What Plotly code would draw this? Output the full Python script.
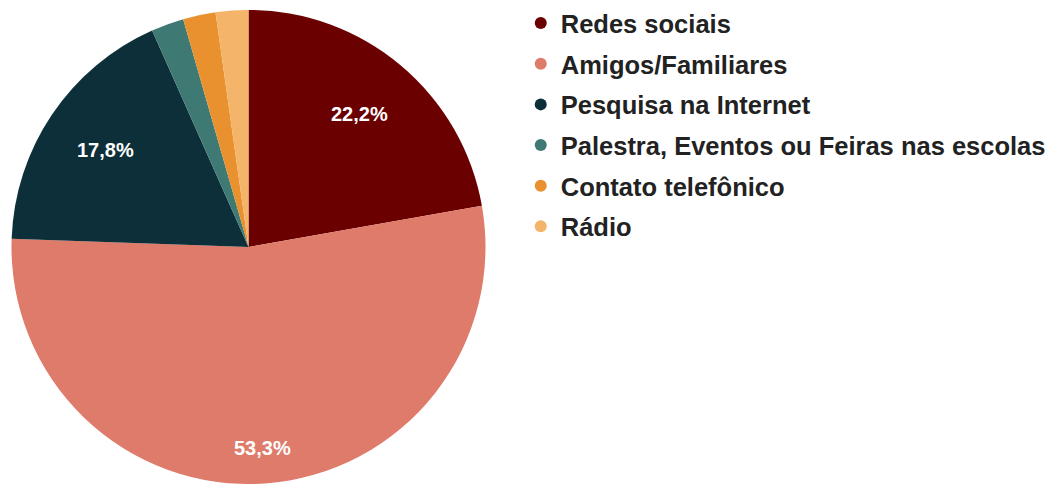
import math
import plotly.graph_objects as go

categories = ["Redes sociais", "Amigos/Familiares", "Pesquisa na Internet",
              "Palestra, Eventos ou Feiras nas escolas", "Contato telefônico", "Rádio"]
counts = [10, 24, 8, 1, 1, 1]
labels_shown = ["22,2%", "53,3%", "17,8%", "", "", ""]
colors = ["#6b0000", "#de7b6a", "#0c2f3a", "#3e7a73", "#e8912e", "#f4b46a"]

W, H = 1052, 484
CX, CY, R = 248.5, 247.0, 237.0          # pie geometry in px
label_radius = [0.73, 0.85, 0.73, 0, 0, 0]  # style: label distance as fraction of radius

fig = go.Figure()
fig.add_trace(go.Pie(
    labels=categories, values=counts, sort=False, direction="clockwise", rotation=0,
    marker=dict(colors=colors, line=dict(width=0)),
    textinfo="none", showlegend=False, hoverinfo="label+percent",
    domain=dict(x=[(CX - R) / W, (CX + R) / W], y=[1 - (CY + R) / H, 1 - (CY - R) / H]),
))
for c, col in zip(categories, colors):
    fig.add_trace(go.Scatter(
        x=[None], y=[None], mode="markers", name=c, legendgroup=c,
        marker=dict(symbol="circle", size=17, color=col), showlegend=True,
    ))

total = sum(counts)
cum = 0
for v, lab, fr in zip(counts, labels_shown, label_radius):
    mid = (cum + v / 2) / total * 2 * math.pi
    cum += v
    if not lab:
        continue
    px = CX + fr * R * math.sin(mid)
    py = CY - fr * R * math.cos(mid)
    fig.add_annotation(x=px / W, y=1 - py / H, xref="paper", yref="paper",
                       xanchor="center", yanchor="middle",
                       text=lab, showarrow=False,
                       font=dict(family="Liberation Sans, Arial, sans-serif", size=20,
                                 color="white", weight="bold"))

fig.update_layout(
    width=W, height=H, margin=dict(l=0, r=0, t=0, b=0),
    paper_bgcolor="white", plot_bgcolor="white",
    xaxis=dict(visible=False), yaxis=dict(visible=False),
    legend=dict(x=0.495, y=1.0, xanchor="left", yanchor="top",
                font=dict(family="Liberation Sans, Arial, sans-serif", size=25.5, color="#222222", weight="bold"),
                traceorder="grouped", tracegroupgap=4.5, itemsizing="constant",
                bgcolor="rgba(0,0,0,0)"),
)
fig.write_html("out.html", config={"displayModeBar": False},
               post_script="document.body.style.margin='0';")
